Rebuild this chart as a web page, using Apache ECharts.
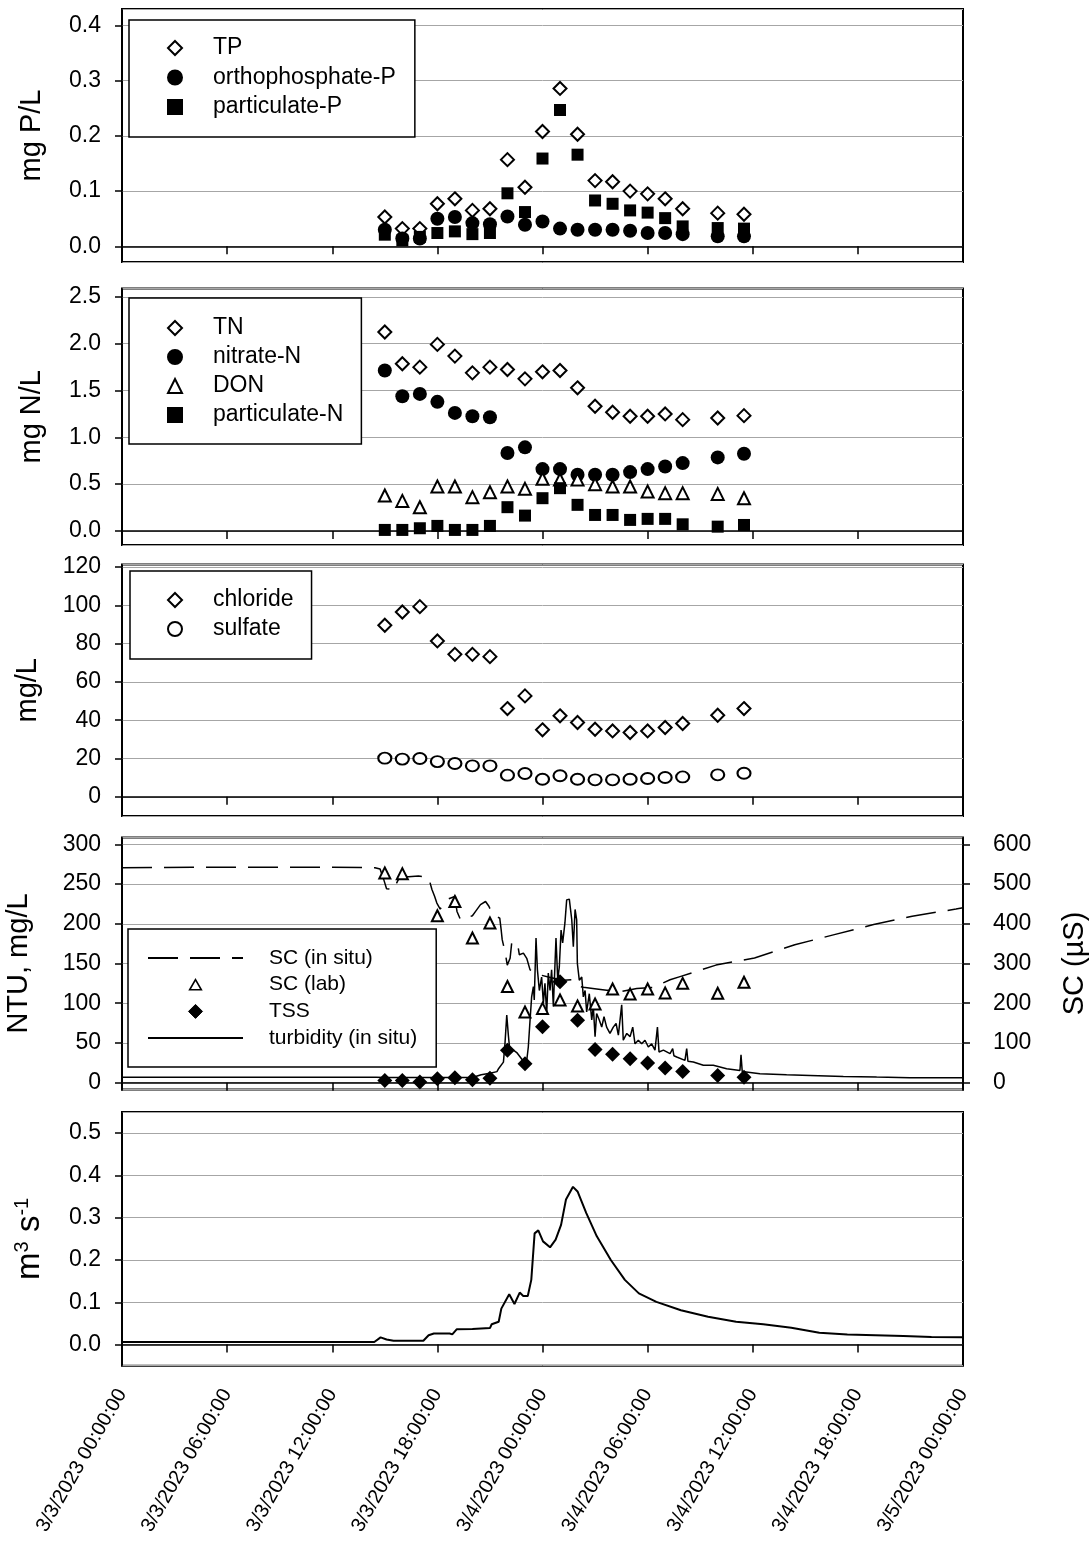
<!DOCTYPE html>
<html lang="en">
<head>
    <meta charset="UTF-8">
    <title>Storm event 3/3/2023</title>
    <script src="https://cdn.jsdelivr.net/npm/echarts@6/dist/echarts.min.js"></script>
    <style>
        body { margin: 0; background: #fff; }
        #chart { width: 1091px; height: 1541px; }
    </style>
</head>
<body>
    <div id="chart"></div>

    <script>
        // #region data (time = hours after 3/3/2023 00:00)
        var sampleHours = [15, 16, 17, 18, 19, 20, 21, 22, 23, 24, 25, 26, 27, 28, 29, 30, 31, 32, 34, 35.5]

        var tp     = [0.053, 0.032, 0.032, 0.077, 0.086, 0.065, 0.068, 0.157, 0.107, 0.208, 0.286, 0.203, 0.119, 0.117, 0.100, 0.095, 0.086, 0.068, 0.060, 0.058]
        var orthoP = [0.030, 0.014, 0.014, 0.050, 0.053, 0.042, 0.040, 0.054, 0.039, 0.045, 0.032, 0.030, 0.030, 0.030, 0.028, 0.024, 0.024, 0.022, 0.018, 0.018]
        var partP  = [0.021, 0.011, 0.017, 0.024, 0.027, 0.022, 0.024, 0.096, 0.062, 0.159, 0.247, 0.166, 0.083, 0.077, 0.065, 0.061, 0.051, 0.036, 0.033, 0.032]

        var tn      = [2.125, 1.786, 1.75, 1.993, 1.868, 1.689, 1.75, 1.725, 1.625, 1.70, 1.714, 1.529, 1.332, 1.268, 1.225, 1.225, 1.25, 1.189, 1.207, 1.232]
        var nitrate = [1.714, 1.439, 1.464, 1.379, 1.261, 1.225, 1.214, 0.832, 0.893, 0.661, 0.661, 0.60, 0.60, 0.60, 0.629, 0.661, 0.689, 0.725, 0.786, 0.825]
        var don     = [0.379, 0.321, 0.254, 0.475, 0.475, 0.361, 0.414, 0.475, 0.45, 0.557, 0.55, 0.55, 0.50, 0.475, 0.475, 0.421, 0.404, 0.404, 0.396, 0.35]
        var partN   = [0.011, 0.011, 0.029, 0.054, 0.011, 0.011, 0.054, 0.254, 0.164, 0.35, 0.457, 0.279, 0.171, 0.171, 0.118, 0.129, 0.129, 0.071, 0.046, 0.064]

        var chloride = [89.6, 96.5, 99.3, 81.4, 74.4, 74.4, 73.2, 46.1, 52.7, 35.0, 42.3, 38.8, 35.3, 34.4, 33.6, 34.4, 36.2, 38.3, 42.6, 46.1]
        var sulfate  = [20.2, 19.7, 20.0, 18.4, 17.4, 16.2, 16.2, 11.3, 12.2, 9.2, 11.0, 9.2, 8.9, 8.9, 9.2, 9.6, 10.1, 10.4, 11.5, 12.3]

        var tss   = [2.9, 2.9, 0.8, 5.0, 6.3, 3.8, 5.8, 40.8, 24, 70.3, 127, 78.7, 41.7, 35.8, 30.3, 24.8, 18.5, 14.3, 9.2, 7.0]
        var scLab = [528, 526, null, 420, 456, 364, 402, 242, 178, 187, 208, 193, 198, 236, 223, 236, 226, 250, 225, 253]

        // SC (in situ), uS
        var scHours = [0, 4, 8, 12, 14.44, 14.73, 14.8, 14.94, 15.1, 15.58, 15.68, 15.87, 16.35, 16.92, 17.5, 17.69, 17.84, 17.97, 18.16,
            18.6, 19.03, 19.06, 19.12, 19.32, 20.0, 20.18, 20.46, 20.75, 20.94, 21.03, 21.3, 21.56, 21.64, 21.7, 21.86, 21.99,
            22.15, 22.24, 22.43, 22.57, 22.68, 22.91, 23.1, 23.29, 23.8, 24.5, 25.2, 25.67, 26.14, 26.33, 27.09, 27.66, 28.42,
            29.38, 30.33, 31.28, 31.85, 33.9, 36.1, 38.4, 40.6, 42.9, 45.1, 47.6, 48]
        var scInSitu = [541, 542, 542, 542, 541, 538, 535, 511, 488, 486, 503, 520, 518, 520, 516, 486, 469, 452, 437,
            462, 469, 448, 431, 410, 420, 431, 448, 456, 444, 435, 420, 414, 385, 360, 330, 296,
            313, 351, 355, 351, 322, 326, 313, 284, 272, 264, 258, 259, 242, 240, 236, 233, 229,
            237, 240, 259, 267, 296, 314, 347, 372, 398, 419, 437, 440]

        // turbidity (in situ), NTU
        var turbHours = [0, 2.6, 2.7, 2.8, 8.1, 8.2, 8.3, 14.5, 15, 20, 20.5, 21.0, 21.4, 21.5, 21.77, 21.86, 21.96, 22.05, 22.15,
            22.34, 22.53, 22.91, 23.10, 23.19, 23.29, 23.38, 23.48, 23.53, 23.63, 23.71, 23.82, 23.95, 24.05, 24.14, 24.24,
            24.33, 24.43, 24.52, 24.62, 24.77, 24.87, 24.96, 25.06, 25.15, 25.28, 25.38, 25.53, 25.67, 25.76, 25.86, 25.95,
            25.99, 26.10, 26.24, 26.33, 26.43, 26.52, 26.67, 26.81, 26.90, 27.00, 27.09, 27.24, 27.38, 27.51, 27.66, 27.85,
            28.04, 28.20, 28.33, 28.52, 28.61, 28.81, 29.00, 29.15, 29.28, 29.47, 29.66, 29.85, 30.04, 30.23, 30.42, 30.56,
            30.65, 30.90, 31.28, 31.43, 31.5, 31.66, 32.13, 32.23, 32.3, 32.61, 33.18, 33.75, 34.51, 35.27, 35.33, 35.4,
            35.46, 36.41, 37.93, 39.27, 41.17, 43.07, 44.97, 47.2, 47.25, 47.3, 48]
        var turbidity = [7, 7, 8.5, 7, 7, 8.5, 7, 7, 6.5, 6.5, 10, 12, 14, 18, 26, 50, 85, 60, 37,
            41, 38, 27, 28, 45, 79, 108, 121, 104, 182, 142, 116, 133, 100, 125, 87,
            138, 116, 142, 96, 182, 129, 146, 192, 176, 201, 230, 231, 205, 171, 218, 205,
            150, 129, 133, 108, 116, 89, 112, 79, 96, 58, 87, 79, 70, 83, 70, 62,
            70, 74.5, 60, 98, 53.5, 62, 58, 70, 49, 53.5, 49, 53.5, 45, 49, 41, 70,
            38.7, 41, 36.6, 43, 34, 32.4, 28.2, 43, 27, 26, 21.9, 21.9, 17.7, 15.5, 35.3, 14,
            13.4, 11.3, 10, 9.2, 8, 7.1, 6.3, 6.3, 8, 6.3, 6.3]

        // discharge, m3/s
        var qHours = [0, 14.4, 14.76, 15.1, 15.5, 17.2, 17.5, 17.8, 18.7, 18.85, 19.1, 20, 21, 21.1, 21.5, 21.65, 22.1, 22.4,
            22.7, 22.9, 23.16, 23.36, 23.55, 23.76, 24.03, 24.43, 24.75, 25.06, 25.34, 25.74, 26.0, 26.5, 27.1, 27.9,
            28.7, 29.5, 30.5, 31.9, 33.45, 35.05, 36.6, 38.2, 39.8, 41.4, 43, 44.6, 46.2, 48]
        var discharge = [0.006, 0.006, 0.017, 0.012, 0.009, 0.009, 0.022, 0.026, 0.026, 0.024, 0.036, 0.037, 0.039, 0.048,
            0.054, 0.085, 0.119, 0.096, 0.123, 0.115, 0.115, 0.153, 0.263, 0.270, 0.244, 0.230, 0.248, 0.283, 0.343,
            0.373, 0.362, 0.311, 0.256, 0.200, 0.153, 0.121, 0.101, 0.081, 0.066, 0.054, 0.048, 0.040, 0.028, 0.024,
            0.022, 0.020, 0.018, 0.017]
        // #endregion

        function pairs(xs, ys) {
            return xs.map(function (x, i) { return [x, ys[i]] })
        }

        function dateLabel(v) {
            var day = 3 + Math.floor(v / 24)
            var hour = v % 24
            return "3/" + day + "/2023 " + (hour < 10 ? "0" + hour : hour) + ":00:00"
        }

        var FONT = "Liberation Sans"
        var tops = [9, 288.5, 564.5, 837.5, 1112]
        var heights = [253, 256.5, 251.5, 252, 253.7]

        var grids = tops.map(function (t, i) {
            return {
                left: 122, right: 128, top: t, height: heights[i], show: true,
                borderColor: "#000", borderWidth: 2, backgroundColor: "transparent",
                outerBoundsMode: "none", containLabel: false
            }
        })

        var xAxes = tops.map(function (t, i) {
            return {
                type: "value", gridIndex: i, min: 0, max: 48, interval: 6,
                axisLine: { lineStyle: { color: "#000", width: 1.5 } },
                axisTick: { show: true, inside: false, length: 8, lineStyle: { color: "#000", width: 1.5 } },
                splitLine: { show: false },
                axisLabel: i < 4 ? { show: false } : {
                    show: true, rotate: 60, margin: 25, fontSize: 20, color: "#000", fontFamily: FONT,
                    formatter: dateLabel
                }
            }
        })

        function yAxis(grid, min, max, step, digits, name, gap, extra) {
            var ax = {
                type: "value", gridIndex: grid, min: min, max: max,
                minInterval: step, maxInterval: step, splitNumber: Math.round((max - min) / step),
                name: name, nameLocation: "middle", nameGap: gap, nameRotate: 90,
                nameTextStyle: { fontSize: 29, color: "#000", fontFamily: FONT },
                axisLine: { show: true, lineStyle: { color: "#000", width: 1.5 } },
                axisTick: { show: true, inside: false, length: 7, lineStyle: { color: "#000", width: 1.5 } },
                splitLine: { show: true, lineStyle: { color: "#a6a6a6", width: 1 } },
                axisLabel: {
                    fontSize: 23, color: "#000", fontFamily: FONT, margin: 21,
                    showMinLabel: false, showMaxLabel: false,
                    formatter: function (v) { return v.toFixed(digits) }
                }
            }
            return Object.assign(ax, extra || {})
        }

        var yAxes = [
            yAxis(0, -0.0285, 0.43, 0.1, 1, "mg P/L", 76),
            yAxis(1, -0.15, 2.59, 0.5, 1, "mg N/L", 76),
            yAxis(2, -10, 121.3, 20, 0, "mg/L", 80),
            yAxis(3, -8.5, 308.5, 50, 0, "NTU, mg/L", 89),
            yAxis(3, -17, 617, 100, 0, "SC (\u00b5S)", 97, { position: "right", splitLine: { show: false } }),
            yAxis(4, -0.05, 0.55, 0.1, 1, "{a|m}{b|3}{a| s}{b|-1}", 74, {
                nameTextStyle: {
                    color: "#000", fontFamily: FONT,
                    rich: {
                        a: { fontSize: 33, color: "#000", fontFamily: FONT, lineHeight: 36 },
                        b: { fontSize: 20, color: "#000", fontFamily: FONT, lineHeight: 36, verticalAlign: "top" }
                    }
                }
            })
        ]
        yAxes[4].axisLabel.margin = 30

        var openStyle = { color: "#fff", borderColor: "#000", borderWidth: 2, opacity: 1 }
        var fillStyle = { color: "#000", borderColor: "#000", borderWidth: 0, opacity: 1 }

        function scatter(name, xi, yi, ys, symbol, size, open) {
            return {
                name: name, type: "scatter", xAxisIndex: xi, yAxisIndex: yi,
                data: pairs(sampleHours, ys), symbol: symbol, symbolSize: size,
                itemStyle: open ? openStyle : fillStyle, z: 3
            }
        }

        var series = [
            scatter("TP", 0, 0, tp, "diamond", 13, true),
            scatter("orthophosphate-P", 0, 0, orthoP, "circle", 14, false),
            scatter("particulate-P", 0, 0, partP, "rect", 12, false),

            scatter("TN", 1, 1, tn, "diamond", 13, true),
            scatter("nitrate-N", 1, 1, nitrate, "circle", 14, false),
            scatter("DON", 1, 1, don, "triangle", 12, true),
            scatter("particulate-N", 1, 1, partN, "rect", 12, false),

            scatter("chloride", 2, 2, chloride, "diamond", 13, true),
            scatter("sulfate", 2, 2, sulfate, "circle", [13, 11], true),

            {
                name: "SC (in situ)", type: "line", xAxisIndex: 3, yAxisIndex: 4,
                data: pairs(scHours, scInSitu), symbol: "none", showSymbol: false,
                itemStyle: { color: "#000" },
                lineStyle: { color: "#000", width: 1.5, type: [30, 12] }, z: 2
            },
            scatter("SC (lab)", 3, 4, scLab, "triangle", 11, true),
            scatter("TSS", 3, 3, tss, "diamond", 15, false),
            {
                name: "turbidity (in situ)", type: "line", xAxisIndex: 3, yAxisIndex: 3,
                data: pairs(turbHours, turbidity), symbol: "none", showSymbol: false,
                itemStyle: { color: "#000" },
                lineStyle: { color: "#000", width: 1.5 }, z: 2
            },

            {
                name: "discharge", type: "line", xAxisIndex: 4, yAxisIndex: 5,
                data: pairs(qHours, discharge), symbol: "none", showSymbol: false,
                itemStyle: { color: "#000" },
                lineStyle: { color: "#000", width: 2 }
            }
        ]

        function legend(names, left, top, pad, itemW, itemH, gap, fontSize, textPad) {
            return {
                data: names, orient: "vertical", left: left, top: top, padding: pad,
                itemWidth: itemW, itemHeight: itemH, itemGap: gap, selectedMode: false,
                backgroundColor: "#fff", borderColor: "#000", borderWidth: 1.5, borderRadius: 0,
                itemStyle: { borderColor: "#000", borderWidth: 2 },
                textStyle: { fontSize: fontSize, lineHeight: fontSize + 2, color: "#000", fontFamily: FONT, padding: [0, 0, 0, textPad] }
            }
        }

        var hideDot = { color: "rgba(0,0,0,0)", borderWidth: 0, opacity: 0 }
        var legends = [
            legend(["TP", "orthophosphate-P", "particulate-P"], 129, 20, [15.5, 19, 17.5, 38], 14, 14, 4.5, 23, 26),
            legend(["TN", "nitrate-N", "DON", "particulate-N"], 129, 298, [17.5, 18, 16.5, 38], 14, 14, 4, 23, 26),
            legend(["chloride", "sulfate"], 130, 571, [16.5, 18, 17.5, 37], 14, 14, 4, 23, 26),
            legend([
                { name: "SC (in situ)", itemStyle: hideDot },
                { name: "SC (lab)", icon: "path://M5,0L10,8.66L0,8.66Z M5,-1.7L5,-1.7 M5,10.3L5,10.3", itemStyle: { color: "#fff", borderColor: "#000", borderWidth: 1.6 } },
                { name: "TSS", icon: "path://M5,0L10,5L5,10L0,5Z", itemStyle: { color: "#000", borderColor: "#000", borderWidth: 1 } },
                { name: "turbidity (in situ)", itemStyle: hideDot }
            ], 128, 929, [17.5, 19, 17.5, 19], 95, 14, 3.7, 21, 21)
        ]

        var chart = echarts.init(document.getElementById("chart"))
        chart.setOption({
            animation: false,
            backgroundColor: "#fff",
            textStyle: { fontFamily: FONT },
            grid: grids,
            xAxis: xAxes,
            yAxis: yAxes,
            legend: legends,
            series: series
        })
    </script>
</body>
</html>
